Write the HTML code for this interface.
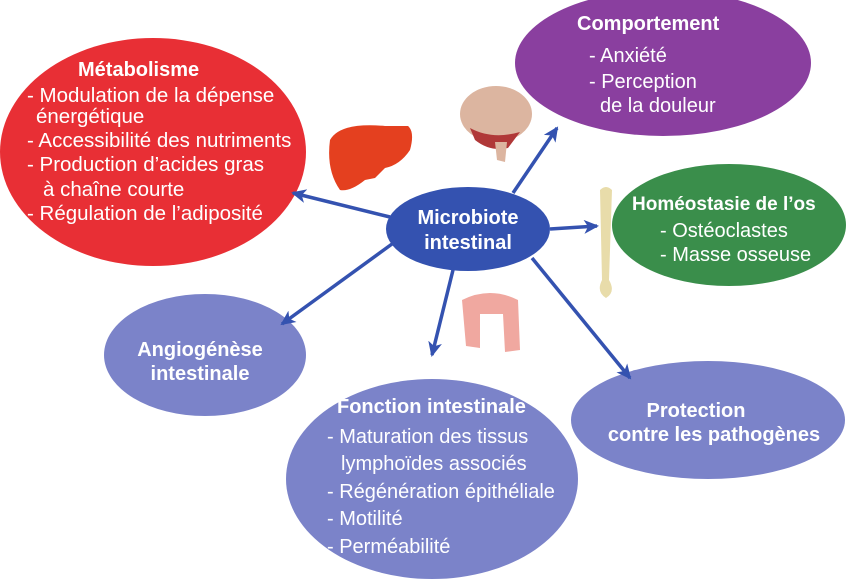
<!DOCTYPE html>
<html><head><meta charset="utf-8"><style>
html,body{margin:0;padding:0;background:#fff;}
svg{display:block;}
text{font-family:"Liberation Sans",Arial,sans-serif;fill:#fff;}
.b{font-weight:bold;}
</style></head><body>
<svg width="850" height="579" viewBox="0 0 850 579" xmlns="http://www.w3.org/2000/svg">
<defs>
<marker id="ah" markerWidth="16" markerHeight="14" refX="13" refY="7" orient="auto" markerUnits="userSpaceOnUse">
<path d="M0,0 L15,7 L0,14 L4,7 Z" fill="#3452b0"/>
</marker>
</defs>
<ellipse cx="153" cy="152" rx="153" ry="114" fill="#e82f35"/>
<ellipse cx="663" cy="63" rx="148" ry="73" fill="#8a3f9f"/>
<ellipse cx="729" cy="225" rx="117" ry="61" fill="#3a8e4b"/>
<ellipse cx="205" cy="355" rx="101" ry="61" fill="#7b83c9"/>
<ellipse cx="432" cy="479" rx="146" ry="100" fill="#7b83c9"/>
<ellipse cx="708" cy="420" rx="137" ry="59" fill="#7b83c9"/>

<path d="M330,140 Q340,122 385,126 L408,126 Q415,132 410,150 Q400,165 385,168 L375,178 L365,180 Q350,192 340,190 Q326,170 330,140 Z" fill="#e4401f"/>
<ellipse cx="496" cy="114" rx="36" ry="28" fill="#dcb5a0"/>
<path d="M470,128 Q492,140 520,132 L508,148 Q490,152 475,140 Z" fill="#b03838"/>
<path d="M495,142 L507,142 L505,162 L497,160 Z" fill="#dcb5a0"/>
<path d="M600,190 Q606,184 612,190 L609,280 Q616,292 606,298 Q596,292 602,280 Z" fill="#e8dcaa"/>
<path d="M462,300 Q490,286 518,300 L520,350 L505,352 L503,314 L480,314 L480,348 L466,346 Z" fill="#f0a8a0"/>

<g stroke="#3452b0" stroke-width="3.5" fill="none" marker-end="url(#ah)">
<line x1="390" y1="217" x2="293" y2="193"/>
<line x1="513" y1="193" x2="557" y2="128"/>
<line x1="550" y1="229" x2="597" y2="226"/>
<line x1="392" y1="244" x2="282" y2="324"/>
<line x1="453" y1="270" x2="432" y2="355"/>
<line x1="532" y1="258" x2="630" y2="378"/>
</g>
<ellipse cx="468" cy="229" rx="82" ry="42" fill="#3452b0"/>
<text x="468" y="224" font-size="20" class="b" text-anchor="middle">Microbiote</text>
<text x="468" y="249" font-size="20" class="b" text-anchor="middle">intestinal</text>

<g font-size="20.5">
<text x="78" y="76" class="b" font-size="20">Métabolisme</text>
<text x="27" y="102">- Modulation de la dépense</text>
<text x="36" y="123">énergétique</text>
<text x="27" y="147">- Accessibilité des nutriments</text>
<text x="27" y="171">- Production d’acides gras</text>
<text x="43" y="196">à chaîne courte</text>
<text x="27" y="220">- Régulation de l’adiposité</text>
</g>
<g font-size="20">
<text x="577" y="30" class="b">Comportement</text>
<text x="589" y="62">- Anxiété</text>
<text x="589" y="88">- Perception</text>
<text x="600" y="112">de la douleur</text>
</g>
<g font-size="20">
<text x="632" y="210" class="b" font-size="19">Homéostasie de l’os</text>
<text x="660" y="237">- Ostéoclastes</text>
<text x="660" y="261">- Masse osseuse</text>
</g>
<g font-size="20" class="b" text-anchor="middle">
<text x="200" y="356">Angiogénèse</text>
<text x="200" y="380">intestinale</text>
<text x="696" y="417">Protection</text>
<text x="714" y="441">contre les pathogènes</text>
</g>
<g font-size="20">
<text x="337" y="413" class="b">Fonction intestinale</text>
<text x="327" y="443">- Maturation des tissus</text>
<text x="341" y="470">lymphoïdes associés</text>
<text x="327" y="498">- Régénération épithéliale</text>
<text x="327" y="525">- Motilité</text>
<text x="327" y="553">- Perméabilité</text>
</g>
</svg>
</body></html>
